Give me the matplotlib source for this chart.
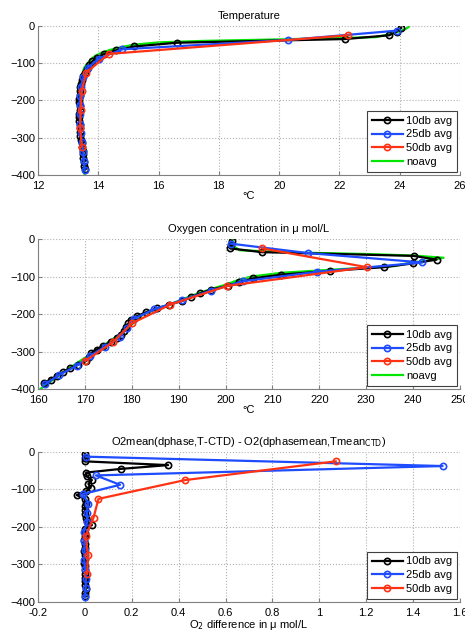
import matplotlib
matplotlib.use("Agg")
import matplotlib.pyplot as plt

plt.rcParams['font.family'] = ['Liberation Sans', 'DejaVu Sans']
plt.rcParams['font.size'] = 8

# depths (db, negative down)
d10 = [-5, -15, -25, -35, -45, -55, -65, -75, -85, -95, -105, -115, -125, -135, -145,
       -155, -165, -175, -185, -195, -205, -215, -225, -235, -245, -255, -265, -275,
       -285, -295, -305, -315, -325, -335, -345, -355, -365, -375, -385]
d25 = [-12.5, -37.5, -62.5, -87.5, -112.5, -137.5, -162.5, -187.5, -212.5, -237.5,
       -262.5, -287.5, -312.5, -337.5, -362.5, -387.5]
d50 = [-25, -75, -125, -175, -225, -275, -325]
d_noavg = [-2, -8, -20, -30, -36, -40, -44, -50, -56, -64, -72, -80, -90, -100, -110,
           -120, -135, -150, -170, -200, -250, -300, -350, -400]

# temperature
t10 = [24.05, 23.9, 23.65, 22.2, 16.6, 15.2, 14.6, 14.2, 13.95, 13.8, 13.7, 13.62, 13.55,
       13.5, 13.45, 13.42, 13.4, 13.38, 13.38, 13.37, 13.37, 13.38, 13.38, 13.37, 13.36,
       13.37, 13.38, 13.38, 13.4, 13.4, 13.42, 13.45, 13.45, 13.48, 13.5, 13.5, 13.52,
       13.53, 13.55]
t25 = [23.9, 20.3, 14.8, 14.02, 13.65, 13.5, 13.42, 13.4, 13.38, 13.38, 13.4, 13.42,
       13.45, 13.5, 13.52, 13.55]
t50 = [22.3, 14.35, 13.6, 13.45, 13.42, 13.4, 13.45]
t_noavg = [24.3, 24.2, 23.8, 23.2, 20.0, 17.5, 16.0, 15.2, 14.8, 14.4, 14.1, 13.9, 13.75,
           13.65, 13.55, 13.5, 13.45, 13.4, 13.38, 13.37, 13.38, 13.42, 13.5, 13.55]

# oxygen
o10 = [201.3, 201.2, 201.0, 207.7, 240.1, 245.0, 240.0, 233.9, 222.2, 211.9, 205.8, 202.9,
       200.5, 196.8, 194.6, 192.7, 190.8, 188.0, 185.3, 183.1, 181.2, 179.8, 179.3, 178.8,
       178.3, 177.8, 176.8, 175.5, 173.8, 172.5, 171.2, 170.9, 170.3, 168.5, 166.9, 165.4,
       164.0, 162.7, 161.3]
o25 = [201.2, 217.6, 242.0, 219.5, 203.8, 196.9, 190.8, 184.8, 180.4, 179.0, 177.4, 174.2,
       171.0, 168.3, 164.5, 161.5]
o50 = [207.8, 230.1, 200.4, 188.2, 180.0, 176.0, 170.1]
o_noavg = [201.5, 201.6, 201.8, 203.0, 215.0, 230.0, 240.0, 246.5, 244.0, 239.0, 236.0,
           225.0, 212.0, 205.5, 202.5, 200.5, 196.5, 193.0, 189.0, 182.5, 178.0, 172.0,
           166.0, 160.5]

# O2 difference
x10 = [0.0, 0.002, 0.0, 0.355, 0.155, 0.005, 0.008, 0.03, 0.015, 0.025, 0.005, -0.035,
       0.0, 0.003, 0.0, 0.002, 0.0, 0.004, 0.008, 0.03, 0.0, 0.002, 0.0, -0.002, 0.0,
       0.002, -0.002, 0.0, 0.001, -0.003, 0.0, 0.002, 0.0, 0.001, 0.002, 0.0, 0.003,
       0.002, 0.001]
x25 = [0.005, 1.526, 0.047, 0.15, -0.01, 0.015, 0.008, 0.01, -0.005, -0.003, -0.001,
       -0.003, 0.001, 0.004, 0.003, 0.001]
x50 = [1.07, 0.427, 0.058, 0.037, 0.003, 0.013, 0.01]

labels = ['10db avg', '25db avg', '50db avg', 'noavg']
colors = ['black', '#1f4cff', '#ff3314', '#00e600']

fig = plt.figure(figsize=(4.65, 6.34), dpi=100)
L, W = 0.0817, 0.9075
ax1 = fig.add_axes([L, 0.724, W, 0.235])
ax2 = fig.add_axes([L, 0.3864, W, 0.2366])
ax3 = fig.add_axes([L, 0.0505, W, 0.2366])


def style(ax, xlim, xticks):
    ax.set_xlim(xlim)
    ax.set_ylim(-400, 0)
    ax.set_xticks(xticks)
    ax.set_yticks([0, -100, -200, -300, -400])
    ax.grid(True, color='#b0b0b0', linestyle=':', linewidth=0.8)
    for s in ['top', 'right']:
        ax.spines[s].set_visible(False)
    for s in ['left', 'bottom']:
        ax.spines[s].set_color('#808080')
    ax.tick_params(direction='in', length=3, color='#808080', labelsize=8, pad=2)
    ax.tick_params(axis='x', pad=4)


mk = dict(marker='o', markerfacecolor='none', markersize=4.5, markeredgewidth=1.2, linewidth=1.6)

ax1.plot(t10, d10, color=colors[0], label=labels[0], **mk)
ax1.plot(t25, d25, color=colors[1], label=labels[1], **mk)
ax1.plot(t50, d50, color=colors[2], label=labels[2], **mk)
ax1.plot(t_noavg, d_noavg, color=colors[3], label=labels[3], linewidth=1.6, zorder=1)
style(ax1, (12, 26), [12, 14, 16, 18, 20, 22, 24, 26])
ax1.set_title('Temperature', fontsize=8, pad=5)
ax1.set_xlabel('°C', fontsize=8, labelpad=0)

ax2.plot(o10, d10, color=colors[0], label=labels[0], **mk)
ax2.plot(o25, d25, color=colors[1], label=labels[1], **mk)
ax2.plot(o50, d50, color=colors[2], label=labels[2], **mk)
ax2.plot(o_noavg, d_noavg, color=colors[3], label=labels[3], linewidth=1.6, zorder=1)
style(ax2, (160, 250), [160, 170, 180, 190, 200, 210, 220, 230, 240, 250])
ax2.set_title('Oxygen concentration in μ mol/L', fontsize=8, pad=5)
ax2.set_xlabel('°C', fontsize=8, labelpad=0)

ax3.plot(x10, d10, color=colors[0], label=labels[0], **mk)
ax3.plot(x25, d25, color=colors[1], label=labels[1], **mk)
ax3.plot(x50, d50, color=colors[2], label=labels[2], **mk)
style(ax3, (-0.2, 1.6), [-0.2, 0, 0.2, 0.4, 0.6, 0.8, 1, 1.2, 1.4, 1.6])
ax3.set_xticklabels(['-0.2', '0', '0.2', '0.4', '0.6', '0.8', '1', '1.2', '1.4', '1.6'])
ax3.set_title('O2mean(dphase,T-CTD) - O2(dphasemean,Tmean$_{\\mathrm{CTD}}$)', fontsize=8, pad=5)
ax3.set_xlabel('O$_2$ difference in μ mol/L', fontsize=8, labelpad=0)

for ax in (ax1, ax2, ax3):
    leg = ax.legend(loc='lower right', fontsize=8, fancybox=False, framealpha=1,
                    edgecolor='#404040', borderaxespad=0.3, handlelength=2.8,
                    handletextpad=0.3, labelspacing=0.35, borderpad=0.4)
    leg.get_frame().set_linewidth(0.8)

fig.savefig('out.png', dpi=100)
